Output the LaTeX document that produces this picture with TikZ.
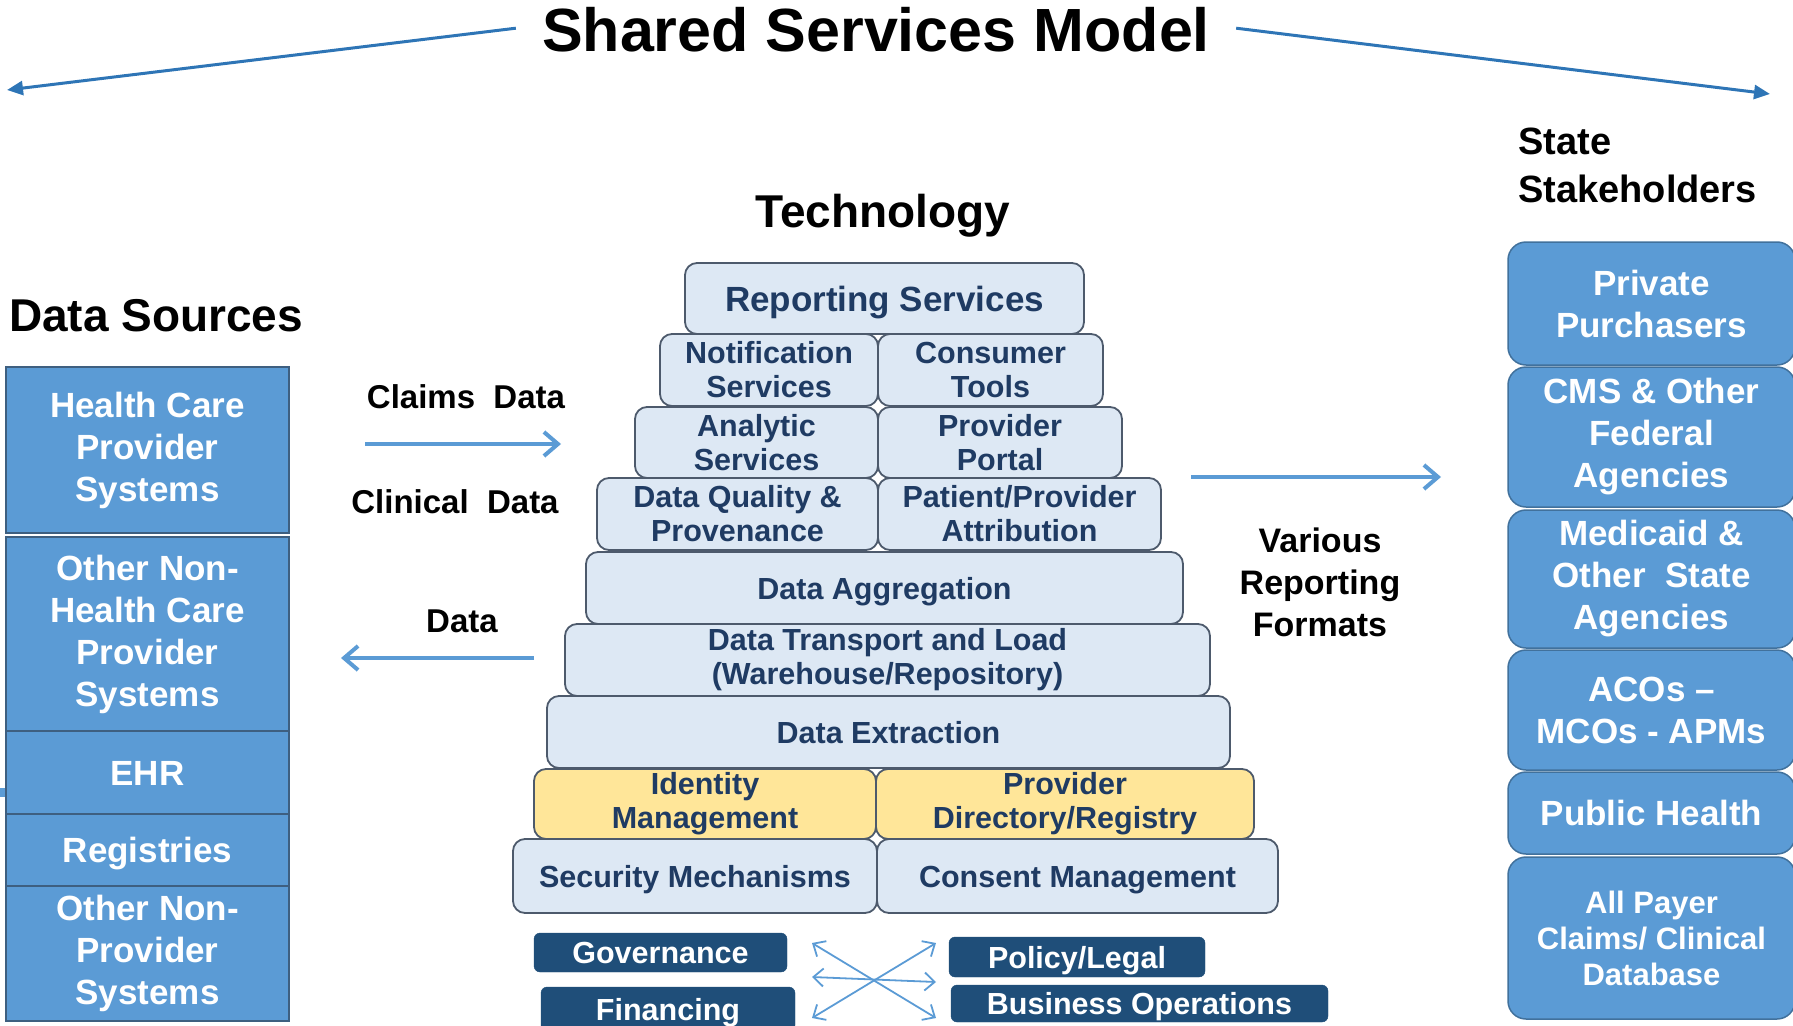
\documentclass[tikz,border=0pt]{standalone}
\usepackage{fontspec}
\setmainfont{Liberation Sans}
\usetikzlibrary{arrows.meta}
\definecolor{srcfill}{HTML}{5B9BD5}
\definecolor{srcborder}{HTML}{3E5F80}
\definecolor{stakeborder}{HTML}{41719C}
\definecolor{layerfill}{HTML}{DDE8F4}
\definecolor{layerborder}{HTML}{4D5A6C}
\definecolor{layertext}{HTML}{1F3B63}
\definecolor{idfill}{HTML}{FFE699}
\definecolor{navy}{HTML}{1F4E79}
\definecolor{arrowblue}{HTML}{5B9BD5}
\definecolor{titleblue}{HTML}{2E75B6}
\newcommand{\myfs}[2]{\fontsize{#1}{#2}\selectfont}
\begin{document}
\begin{tikzpicture}[x=1pt,y=-1pt,
  srcbox/.style={draw=srcborder, line width=2pt, fill=srcfill, text=white,
    font=\bfseries\myfs{35}{42}, align=center, inner sep=0pt, minimum width=283pt},
  stakebox/.style={draw=stakeborder, line width=1.5pt, fill=srcfill, text=white,
    font=\bfseries\myfs{35}{42}, align=center, inner sep=0pt, rounded corners=18pt,
    minimum width=287pt},
  layer/.style={draw=layerborder, line width=1.8pt, fill=layerfill, rounded corners=12pt,
    text=layertext, font=\bfseries\myfs{30.5}{34}, align=center, inner sep=0pt},
  oneline/.style={text height=22pt, text depth=0pt},
  idlayer/.style={layer, fill=idfill},
  navybox/.style={fill=navy, draw=navy, rounded corners=6pt, text=white,
    font=\bfseries\myfs{30.5}{34}, inner sep=0pt, text height=22pt, text depth=0pt},
  lbl/.style={font=\bfseries\myfs{33}{40}, text=black, align=center, inner sep=0pt},
  titlearrow/.style={draw=titleblue, line width=3pt, -{Triangle[length=16pt,width=14pt]}},
  dataarrow/.style={draw=arrowblue, line width=4pt, -{Straight Barb[length=14pt,width=24pt]}},
  crossarrow/.style={draw=arrowblue, line width=1.8pt,
    {Straight Barb[length=10pt,width=18pt]}-{Straight Barb[length=10pt,width=18pt]}}
]
\useasboundingbox (0,0) rectangle (1793,1025);

% titles
\node[lbl, font=\bfseries\myfs{61}{70}, anchor=base] (title) at (876,52) {Shared Services Model};
\node[lbl, font=\bfseries\myfs{46}{52}, anchor=base] (tech) at (883,227) {Technology};
\node[lbl, font=\bfseries\myfs{46}{52}, anchor=base west] (ds) at (9,331) {Data Sources};
\node[lbl, font=\bfseries\myfs{38}{48}, align=left, anchor=west] (state) at (1518,165) {State\\Stakeholders};

\coordinate (tlEnd) at (7,90);
\coordinate (trEnd) at (1770,94);
\draw[titlearrow] ([xshift=-26pt,yshift=2pt]title.west) -- (tlEnd);
\draw[titlearrow] ([xshift=26pt,yshift=2pt]title.east) -- (trEnd);

% small stub at left edge
\coordinate (stubA) at (0,792);
\coordinate (stubB) at (6,792);
\draw[arrowblue, line width=9pt] (stubA) -- (stubB);

% data sources
\node[srcbox, minimum height=166pt] (hcp) at (147.5,450) {Health Care\\Provider\\Systems};
\node[srcbox, minimum height=194pt] (onh) at (147.5,634) {Other Non-\\Health Care\\Provider\\Systems};
\node[srcbox, minimum height=83pt, text height=25pt, text depth=0pt] (ehr) at (147.5,772.5) {EHR};
\node[srcbox, minimum height=72pt, text height=25pt, text depth=0pt] (reg) at (147.5,850) {Registries};
\node[srcbox, minimum height=135pt] (onp) at (147.5,953.5) {Other Non-\\Provider\\Systems};

% stakeholders
\node[stakebox, minimum height=123pt] (pp) at (1651.5,303.5) {Private\\Purchasers};
\node[stakebox, minimum height=140pt] (cms) at (1651.5,437) {CMS \& Other\\Federal\\Agencies};
\node[stakebox, minimum height=138pt] (med) at (1651.5,579) {Medicaid \&\\Other\ \ State\\Agencies};
\node[stakebox, minimum height=120pt] (aco) at (1651.5,710) {ACOs –\\MCOs - APMs};
\node[stakebox, minimum height=82pt, text height=25pt, text depth=0pt] (ph) at (1651.5,813) {Public Health};
\node[stakebox, minimum height=162pt, font=\bfseries\myfs{31}{36}] (apc) at (1651.5,938) {All Payer\\Claims/ Clinical\\Database};

% technology pyramid
\node[layer, font=\bfseries\myfs{35}{40}, text height=25pt, text depth=0pt,
  minimum width=399pt, minimum height=71pt] (rep) at (884.5,298.5) {Reporting Services};
\node[layer, minimum width=218pt, minimum height=72pt] (notif) at (769,370) {Notification\\Services};
\node[layer, minimum width=225pt, minimum height=72pt] (cons) at (990.5,370) {Consumer\\Tools};
\node[layer, minimum width=243pt, minimum height=71pt] (anal) at (756.5,442.5) {Analytic\\Services};
\node[layer, minimum width=244pt, minimum height=71pt] (port) at (1000,442.5) {Provider\\Portal};
\node[layer, minimum width=281pt, minimum height=72pt] (dq) at (737.5,514) {Data Quality \&\\Provenance};
\node[layer, minimum width=283pt, minimum height=72pt] (attr) at (1019.5,514) {Patient/Provider\\Attribution};
\node[layer, oneline, minimum width=597pt, minimum height=72pt] (agg) at (884.5,588) {Data Aggregation};
\node[layer, minimum width=645pt, minimum height=72pt] (trans) at (887.5,660) {Data Transport and Load\\(Warehouse/Repository)};
\node[layer, oneline, minimum width=683pt, minimum height=72pt] (extr) at (888.5,732) {Data Extraction};
\node[idlayer, minimum width=342pt, minimum height=70pt] (idm) at (705,804) {Identity\\Management};
\node[idlayer, minimum width=378pt, minimum height=70pt] (pdir) at (1065,804) {Provider\\Directory/Registry};
\node[layer, oneline, minimum width=364pt, minimum height=74pt] (sec) at (695,876) {Security Mechanisms};
\node[layer, oneline, minimum width=401pt, minimum height=74pt] (consent) at (1077.5,876) {Consent Management};

% labels
\node[lbl, anchor=base] (claims) at (466,408) {Claims\ \ Data};
\node[lbl, anchor=base] (clin) at (455,513) {Clinical\ \ Data};
\node[lbl, anchor=base] (datal) at (462,632) {Data};
\node[lbl, font=\bfseries\myfs{34}{42}] (various) at (1320,582) {Various\\Reporting\\Formats};

% data arrows
\coordinate (cla) at (365,444); \coordinate (clb) at (561,444);
\draw[dataarrow] (cla) -- (clb);
\coordinate (dla) at (534,658); \coordinate (dlb) at (341,658);
\draw[dataarrow] (dla) -- (dlb);
\coordinate (rfa) at (1191,477); \coordinate (rfb) at (1441,477);
\draw[dataarrow] (rfa) -- (rfb);

% bottom boxes
\node[navybox, minimum width=253pt, minimum height=39pt] (gov) at (660.5,952.5) {Governance};
\node[navybox, minimum width=254pt, minimum height=44pt] (fin) at (668,1009) {Financing};
\node[navybox, minimum width=256pt, minimum height=40pt] (pol) at (1077,957) {Policy/Legal};
\node[navybox, minimum width=377pt, minimum height=37pt] (bus) at (1139.5,1003.5) {Business Operations};

% cross arrows
\coordinate (xa) at (812,943); \coordinate (xb) at (936,1018);
\coordinate (xc) at (812,1018); \coordinate (xd) at (936,943);
\coordinate (xe) at (812,977); \coordinate (xf) at (936,982);
\draw[crossarrow] (xa) -- (xb);
\draw[crossarrow] (xc) -- (xd);
\draw[crossarrow] (xe) -- (xf);
\end{tikzpicture}
\end{document}
